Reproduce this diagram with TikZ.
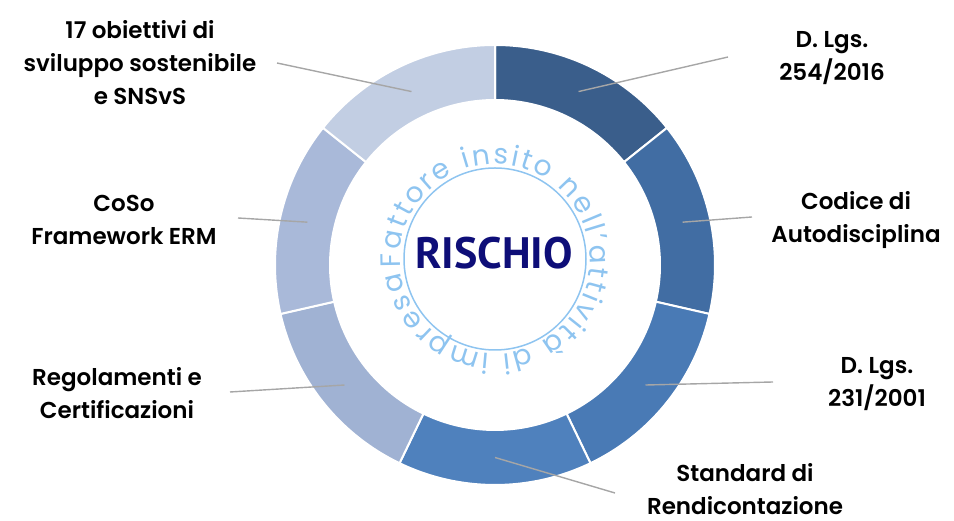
\documentclass[tikz,border=0pt]{standalone}
\usepackage{fontspec}
\setmainfont{Poppins}[BoldFont={Poppins SemiBold}]
\newfontfamily\rischiofont{PT Sans}
\usetikzlibrary{decorations.text}
\definecolor{segA}{RGB}{58,94,139}
\definecolor{segB}{RGB}{65,109,163}
\definecolor{segC}{RGB}{73,122,181}
\definecolor{segD}{RGB}{79,129,189}
\definecolor{segE}{RGB}{160,178,211}
\definecolor{segF}{RGB}{169,185,217}
\definecolor{segG}{RGB}{194,206,227}
\definecolor{circblue}{RGB}{142,196,240}
\definecolor{navy}{RGB}{14,14,120}
\definecolor{leader}{RGB}{166,166,166}
\newcommand\circfont{\fontsize{28}{28}\selectfont\color{circblue}}
\tikzset{
  lbl/.style={align=center, inner sep=0pt, font=\bfseries\fontsize{23}{33}\selectfont},
  lead/.style={leader, line width=1.4pt}
}
\begin{document}
\begin{tikzpicture}[x=1pt, y=1pt, line join=round]
	\def\R{220pt} \def\r{165pt} \def\rm{192.5pt}
	\useasboundingbox (0,0) rectangle (954,521);
	\coordinate (C) at (495,256);
	% ring
	\begin{scope}[shift={(C)}]
		\foreach \i/\col in {1/segA,2/segB,3/segC,4/segD,5/segE,6/segF,7/segG}{
			\pgfmathsetmacro\a{90-(\i-1)*360/7}
			\pgfmathsetmacro\b{90-\i*360/7}
			\fill[\col, draw=white, line width=2pt] (\a:\R) arc[start angle=\a, end angle=\b, radius=\R]
				-- (\b:\r) arc[start angle=\b, end angle=\a, radius=\r] -- cycle;
			\coordinate (m\i) at ({90-(\i-0.5)*360/7}:\rm);
		}
	\end{scope}
	% centre
	\coordinate (O) at (495,262);
	\draw[circblue, line width=1.5pt] (O) circle[radius=91pt];
	\path[decorate, decoration={text along path, text align=fit to path,
		text={|\circfont|Fattore insito nell’attività di impresa}}]
		(O) ++(185:95pt) arc[start angle=185, end angle=-172, radius=95pt];
	\node[navy, font=\rischiofont\bfseries\fontsize{44}{44}\selectfont] (rischio) at (494,268) {RISCHIO};
	% labels
	\node[lbl] (l1) at (832,463) {D. Lgs.\\254/2016};
	\node[lbl] (l2) at (856,301) {Codice di\\Autodisciplina};
	\node[lbl] (l3) at (877,137) {D. Lgs.\\231/2001};
	\node[lbl] (l4) at (745,32) {Standard di\\Rendicontazione};
	\node[lbl] (l5) at (117,128) {Regolamenti e\\Certificazioni};
	\node[lbl] (l6) at (124,301) {CoSo\\Framework ERM};
	\node[lbl] (l7) at (140,458) {17 obiettivi di\\sviluppo sostenibile\\e SNSvS};
	\coordinate (e1) at (728,464);
	\coordinate (e2) at (752,304);
	\coordinate (e3) at (773,139);
	\coordinate (e4) at (615,28);
	\coordinate (e5) at (230,129);
	\coordinate (e6) at (238,303);
	\coordinate (e7) at (277,458);
	\foreach \i in {1,...,7} \draw[lead] (m\i) -- (e\i);
\end{tikzpicture}
\end{document}
